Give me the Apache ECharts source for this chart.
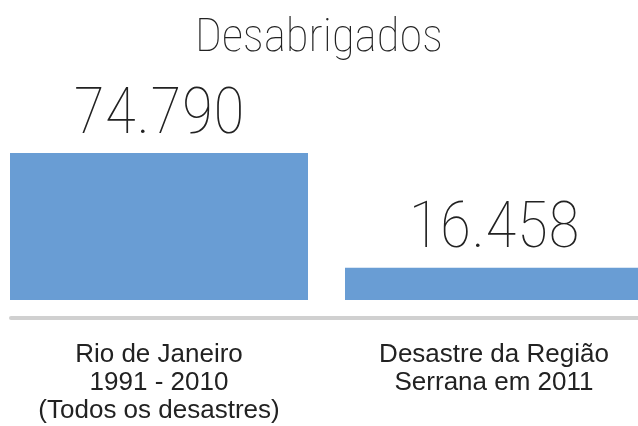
<!DOCTYPE html>
<html>
<head>
<meta charset="utf-8">
<title>Desabrigados</title>
<script src="https://cdn.jsdelivr.net/npm/echarts@6/dist/echarts.min.js"></script>
</head>
<body style="margin:0">
<div id="main" style="width:638px;height:426px;"></div>
<script>
// dados do grafico
var categorias = ['Rio de Janeiro\n1991 - 2010\n(Todos os desastres)', 'Desastre da Região\nSerrana em 2011'];
var desabrigados = [74790, 16458];

function formatar(v) {
  // separador de milhar com ponto
  return String(v).replace(/\B(?=(\d{3})+(?!\d))/g, '.');
}

var myChart = echarts.init(document.getElementById('main'));

var option = {
  animation: false,
  title: {
    text: 'Desabrigados',
    left: 'center',
    top: 11,
    textStyle: {
      fontFamily: 'Roboto Condensed',
      fontWeight: 100,
      fontSize: 47,
      color: '#222'
    }
  },
  grid: [
    { left: -8.5, right: -23.5, top: 153, bottom: 108, outerBoundsMode: 'none' },
    { left: 11, right: 0, top: 153, bottom: 108, outerBoundsMode: 'none' }
  ],
  xAxis: [
    {
      type: 'category',
      gridIndex: 0,
      data: categorias,
      axisLine: { show: false },
      axisTick: { show: false },
      axisLabel: {
        margin: 23,
        fontFamily: 'Liberation Sans',
        fontSize: 26,
        lineHeight: 28,
        color: '#222'
      }
    },
    {
      // linha cinza da base
      type: 'category',
      gridIndex: 1,
      data: categorias,
      axisLine: { show: true, lineStyle: { color: '#d0d0d0', width: 4 } },
      axisTick: { show: false },
      axisLabel: { show: false }
    }
  ],
  yAxis: [
    { type: 'value', gridIndex: 0, min: -9160, max: 74790, show: false },
    { type: 'value', gridIndex: 1, min: 0, max: 1, show: false }
  ],
  series: [{
    type: 'bar',
    xAxisIndex: 0,
    yAxisIndex: 0,
    data: desabrigados,
    barWidth: 298,
    itemStyle: { color: '#699dd4' },
    label: {
      show: true,
      position: 'top',
      distance: 4,
      formatter: function (p) { return formatar(p.value); },
      fontFamily: 'Roboto Condensed',
      fontWeight: 100,
      fontSize: 65,
      color: '#222'
    }
  }]
};

myChart.setOption(option);
</script>
</body>
</html>
